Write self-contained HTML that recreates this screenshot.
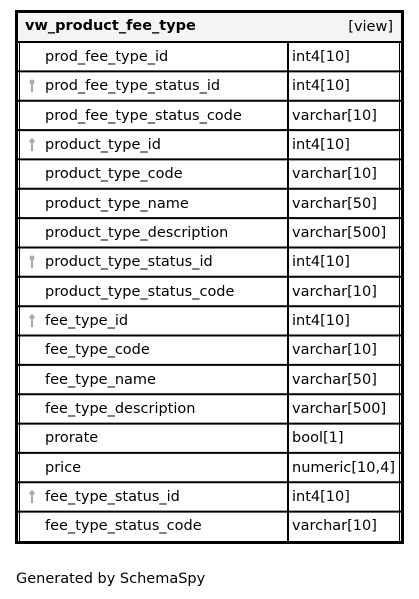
<!DOCTYPE html>
<html><head><meta charset="utf-8"><style>
html,body{margin:0;padding:0;background:#fff;width:419px;height:599px;overflow:hidden}
svg{display:block}
text{font-family:"DejaVu Sans","Liberation Sans",sans-serif;font-size:14.5px;fill:#000}
</style></head><body>
<svg width="419" height="599" viewBox="0 0 419 599" xmlns="http://www.w3.org/2000/svg">
<rect x="0" y="0" width="419" height="599" fill="#fff"/>
<rect x="18" y="13" width="383" height="28" fill="#f4f4f4"/>
<rect x="16.5" y="11.5" width="386" height="531" fill="none" stroke="#000" stroke-width="3"/>
<g stroke="#000" stroke-width="2" fill="none">
<line x1="18" y1="42" x2="401" y2="42"/>
<line x1="18" y1="71.4" x2="401" y2="71.4"/>
<line x1="18" y1="100.7" x2="401" y2="100.7"/>
<line x1="18" y1="130.1" x2="401" y2="130.1"/>
<line x1="18" y1="159.4" x2="401" y2="159.4"/>
<line x1="18" y1="188.8" x2="401" y2="188.8"/>
<line x1="18" y1="218.1" x2="401" y2="218.1"/>
<line x1="18" y1="247.5" x2="401" y2="247.5"/>
<line x1="18" y1="276.8" x2="401" y2="276.8"/>
<line x1="18" y1="306.2" x2="401" y2="306.2"/>
<line x1="18" y1="335.5" x2="401" y2="335.5"/>
<line x1="18" y1="364.9" x2="401" y2="364.9"/>
<line x1="18" y1="394.2" x2="401" y2="394.2"/>
<line x1="18" y1="423.6" x2="401" y2="423.6"/>
<line x1="18" y1="452.9" x2="401" y2="452.9"/>
<line x1="18" y1="482.3" x2="401" y2="482.3"/>
<line x1="18" y1="511.6" x2="401" y2="511.6"/>
<line x1="288" y1="42" x2="288" y2="541"/>
<line x1="19.5" y1="42" x2="19.5" y2="541" stroke-width="1"/>
<line x1="399.5" y1="42" x2="399.5" y2="541" stroke-width="1"/>
</g>
<text x="25" y="30" font-weight="bold">vw_product_fee_type</text>
<text x="393" y="31" text-anchor="end">[view]</text>
<g>
<text x="45" y="61">prod_fee_type_id</text><text x="292" y="61">int4[10]</text>
<text x="45" y="90">prod_fee_type_status_id</text><text x="292" y="90">int4[10]</text>
<text x="45" y="120">prod_fee_type_status_code</text><text x="292" y="120">varchar[10]</text>
<text x="45" y="149">product_type_id</text><text x="292" y="149">int4[10]</text>
<text x="45" y="178">product_type_code</text><text x="292" y="178">varchar[10]</text>
<text x="45" y="208">product_type_name</text><text x="292" y="208">varchar[50]</text>
<text x="45" y="237">product_type_description</text><text x="292" y="237">varchar[500]</text>
<text x="45" y="266">product_type_status_id</text><text x="292" y="266">int4[10]</text>
<text x="45" y="296">product_type_status_code</text><text x="292" y="296">varchar[10]</text>
<text x="45" y="325">fee_type_id</text><text x="292" y="325">int4[10]</text>
<text x="45" y="354">fee_type_code</text><text x="292" y="354">varchar[10]</text>
<text x="45" y="384">fee_type_name</text><text x="292" y="384">varchar[50]</text>
<text x="45" y="413">fee_type_description</text><text x="292" y="413">varchar[500]</text>
<text x="45" y="442">prorate</text><text x="292" y="442">bool[1]</text>
<text x="45" y="472">price</text><text x="292" y="472">numeric[10,4]</text>
<text x="45" y="501">fee_type_status_id</text><text x="292" y="501">int4[10]</text>
<text x="45" y="530">fee_type_status_code</text><text x="292" y="530">varchar[10]</text>
</g>
<g fill="#aaa">
<g transform="translate(32,82)"><circle cx="0" cy="0" r="2.5"/><rect x="-1" y="0" width="2" height="10"/></g>
<g transform="translate(32,141)"><circle cx="0" cy="0" r="2.5"/><rect x="-1" y="0" width="2" height="10"/></g>
<g transform="translate(32,258)"><circle cx="0" cy="0" r="2.5"/><rect x="-1" y="0" width="2" height="10"/></g>
<g transform="translate(32,317)"><circle cx="0" cy="0" r="2.5"/><rect x="-1" y="0" width="2" height="10"/></g>
<g transform="translate(32,493)"><circle cx="0" cy="0" r="2.5"/><rect x="-1" y="0" width="2" height="10"/></g>
</g>
<text x="16" y="583">Generated by SchemaSpy</text>
</svg>
</body></html>
